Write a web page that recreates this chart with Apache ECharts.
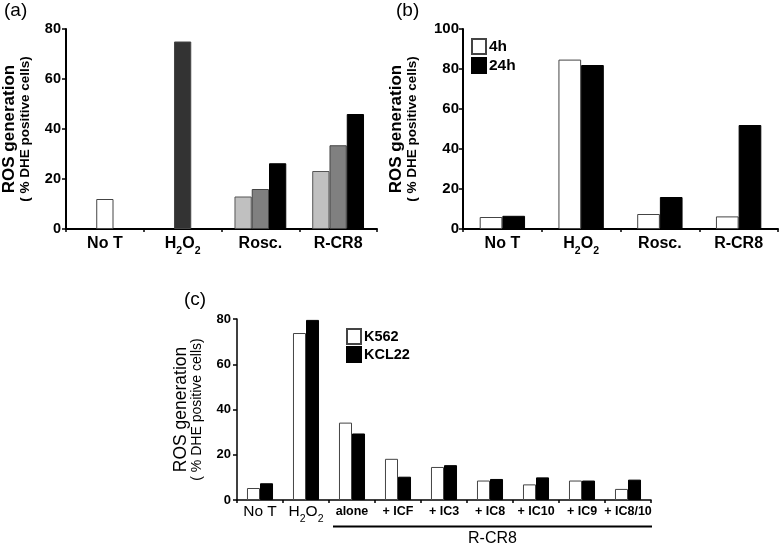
<!DOCTYPE html>
<html>
<head>
<meta charset="utf-8">
<script src="https://cdn.jsdelivr.net/npm/echarts@6/dist/echarts.min.js"></script>
<style>
html,body{margin:0;padding:0;background:#fff;}
#main{width:779px;height:544px;}
</style>
</head>
<body>
<div id="main"></div>
<script>
// ---------- data ----------
const catsA = ['No T', 'H2O2', 'Rosc.', 'R-CR8'];
const aLight = [null, null, 13, 23.2];
const aMid = [12, 75, 16, 33.5];
const aDark = [null, null, 26.3, 46];

const catsB = ['No T', 'H2O2', 'Rosc.', 'R-CR8'];
const b4h = [6, 84.7, 7.5, 6.3];
const b24h = [6.6, 82, 16, 52];

const catsC = ['No T', 'H2O2', 'alone', '+ ICF', '+ IC3', '+ IC8', '+ IC10', '+ IC9', '+ IC8/10'];
const cK562 = [5.3, 73.8, 34.2, 18.2, 14.6, 8.6, 6.9, 8.6, 4.9];
const cKCL22 = [7.4, 79.6, 29.4, 10.3, 15.4, 9.3, 10, 8.6, 9];

const yTicksA = [0, 20, 40, 60, 80];
const yTicksB = [0, 20, 40, 60, 80, 100];
const yTicksC = [0, 20, 40, 60, 80];
const groupLabelC = 'R-CR8';
const panelLabels = ['(a)', '(b)', '(c)'];

// ---------- styles ----------
const FF = '"Liberation Sans", Arial, Helvetica, sans-serif';
const aMidColors = ['#ffffff', '#333333', '#808080', '#808080'];

function xLabelFmt(v) {
  if (v === 'H2O2') return '{m|H}{s|2}{m|O}{s|2}';
  return '{m|' + v + '}';
}
function xLabelFmtC(v) {
  if (v === 'H2O2') return '{m|H}{s|2}{m|O}{s|2}';
  if (v === 'No T') return '{m|' + v + '}';
  return '{sm|' + v + '}';
}
function richLab(size, weight) {
  return {
    m: {fontSize: size, fontWeight: weight, fontFamily: FF, color: '#000', lineHeight: 17, verticalAlign: 'top'},
    s: {fontSize: 10.5, fontWeight: weight, fontFamily: FF, color: '#000', lineHeight: 10, padding: [10, 0, 0, 0], verticalAlign: 'top'},
    sm: {fontSize: 12.5, fontWeight: 'bold', fontFamily: FF, color: '#000', lineHeight: 16, verticalAlign: 'top', padding: [1, 0, 0, 0]}
  };
}
function yName(weight, s1, s2, lh1, lh2) {
  return {
    name: '{a|ROS generation}\n{b|( % DHE positive cells)}',
    nameLocation: 'middle',
    nameRotate: 90,
    nameTextStyle: {
      rich: {
        a: {fontSize: s1, fontWeight: weight, fontFamily: FF, color: '#000', lineHeight: lh1},
        b: {fontSize: s2, fontWeight: weight, fontFamily: FF, color: '#000', lineHeight: lh2}
      }
    }
  };
}
function ticksOf(arr) { return {min: arr[0], max: arr[arr.length - 1], interval: arr[1] - arr[0]}; }

const tA = ticksOf(yTicksA), tB = ticksOf(yTicksB), tC = ticksOf(yTicksC);

const chart = echarts.init(document.getElementById('main'), null, {renderer: 'canvas'});

const option = {
  backgroundColor: '#fff',
  animation: false,
  grid: [
    {left: 60, top: 29, width: 317, height: 200},
    {left: 463, top: 29, width: 315, height: 200},
    {left: 237, top: 319, width: 414, height: 181}
  ],
  legend: [
    {
      data: ['4h', '24h'], orient: 'vertical', left: 471, top: 38,
      itemWidth: 14, itemHeight: 15, itemGap: 2, padding: 0,
      textStyle: {fontSize: 15.5, fontWeight: 'bold', fontFamily: FF, color: '#000', padding: [0, 0, 0, -2]},
      icon: 'rect'
    },
    {
      data: ['K562', 'KCL22'], orient: 'vertical', left: 346, top: 328,
      itemWidth: 14, itemHeight: 15, itemGap: 1, padding: 0,
      textStyle: {fontSize: 14.5, fontWeight: 'bold', fontFamily: FF, color: '#000', padding: [0, 0, 0, -2]},
      icon: 'rect'
    }
  ],
  xAxis: [
    {
      gridIndex: 0, type: 'category', data: catsA,
      axisLine: {lineStyle: {color: '#000', width: 2}},
      axisTick: {show: true, length: 3, lineStyle: {color: '#000', width: 1.5}},
      axisLabel: {interval: 0, margin: 7, formatter: xLabelFmt, rich: richLab(16, 'bold')}
    },
    {
      gridIndex: 1, type: 'category', data: catsB,
      axisLine: {lineStyle: {color: '#000', width: 2}},
      axisTick: {show: true, length: 3, lineStyle: {color: '#000', width: 1.5}},
      axisLabel: {interval: 0, margin: 7, formatter: xLabelFmt, rich: richLab(16, 'bold')}
    },
    {
      gridIndex: 2, type: 'category', data: catsC,
      axisLine: {lineStyle: {color: '#000', width: 1.5}},
      axisTick: {show: true, length: 3, lineStyle: {color: '#000', width: 1.5}},
      axisLabel: {interval: 0, margin: 4, formatter: xLabelFmtC, rich: richLab(15.5, 'normal')}
    }
  ],
  yAxis: [
    Object.assign({
      gridIndex: 0, type: 'value', min: tA.min, max: tA.max, interval: tA.interval,
      nameGap: 34,
      axisLine: {show: true, lineStyle: {color: '#000', width: 2}},
      axisTick: {show: true, length: 4, lineStyle: {color: '#000', width: 1.5}},
      splitLine: {show: false},
      axisLabel: {margin: 5, fontSize: 14.5, fontWeight: 'bold', fontFamily: FF, color: '#000'}
    }, yName('bold', 17, 13.5, 17, 14)),
    Object.assign({
      gridIndex: 1, type: 'value', min: tB.min, max: tB.max, interval: tB.interval,
      nameGap: 44,
      axisLine: {show: true, lineStyle: {color: '#000', width: 2}},
      axisTick: {show: true, length: 4, lineStyle: {color: '#000', width: 1.5}},
      splitLine: {show: false},
      axisLabel: {margin: 4, fontSize: 15, fontWeight: 'bold', fontFamily: FF, color: '#000'}
    }, yName('bold', 17, 13.5, 17, 14)),
    Object.assign({
      gridIndex: 2, type: 'value', min: tC.min, max: tC.max, interval: tC.interval,
      nameGap: 33,
      axisLine: {show: true, lineStyle: {color: '#000', width: 1.5}},
      axisTick: {show: true, length: 4, lineStyle: {color: '#000', width: 1.5}},
      splitLine: {show: false},
      axisLabel: {margin: 6, fontSize: 13, fontWeight: 'bold', fontFamily: FF, color: '#000'}
    }, yName('normal', 17.5, 14, 17, 14))
  ],
  series: [
    {
      type: 'bar', xAxisIndex: 0, yAxisIndex: 0, data: aLight,
      barWidth: '22.2%', barGap: '0%',
      itemStyle: {color: '#c0c0c0', borderColor: '#555', borderWidth: 1}
    },
    {
      type: 'bar', xAxisIndex: 0, yAxisIndex: 0,
      data: aMid.map((v, i) => ({value: v, itemStyle: {color: aMidColors[i]}})),
      barWidth: '22.2%', barGap: '0%',
      itemStyle: {borderColor: '#444', borderWidth: 1}
    },
    {
      type: 'bar', xAxisIndex: 0, yAxisIndex: 0, data: aDark,
      barWidth: '22.2%', barGap: '0%',
      itemStyle: {color: '#000', borderColor: '#000', borderWidth: 1}
    },
    {
      name: '4h', type: 'bar', xAxisIndex: 1, yAxisIndex: 1, data: b4h,
      barWidth: '28.8%', barGap: '0%',
      itemStyle: {color: '#fff', borderColor: '#444', borderWidth: 1}
    },
    {
      name: '24h', type: 'bar', xAxisIndex: 1, yAxisIndex: 1, data: b24h,
      barWidth: '28.8%', barGap: '0%',
      itemStyle: {color: '#000', borderColor: '#000', borderWidth: 1}
    },
    {
      name: 'K562', type: 'bar', xAxisIndex: 2, yAxisIndex: 2, data: cK562,
      barWidth: '28.3%', barGap: '0%',
      itemStyle: {color: '#fff', borderColor: '#444', borderWidth: 1}
    },
    {
      name: 'KCL22', type: 'bar', xAxisIndex: 2, yAxisIndex: 2, data: cKCL22,
      barWidth: '28.3%', barGap: '0%',
      itemStyle: {color: '#000', borderColor: '#000', borderWidth: 1}
    }
  ]
};
chart.setOption(option);

// group bracket under R-CR8 categories of panel (c)
const p0 = chart.convertToPixel({xAxisIndex: 2}, catsC[2]);
const p1 = chart.convertToPixel({xAxisIndex: 2}, catsC[3]);
const band = p1 - p0;
const pEnd = chart.convertToPixel({xAxisIndex: 2}, catsC[catsC.length - 1]);
const lineX1 = p0 - band / 2 + 4;
const lineX2 = pEnd + band / 2 + 1;
const yBase = chart.convertToPixel({yAxisIndex: 2}, 0);

chart.setOption({
  graphic: [
    {type: 'text', left: 4, top: 1, style: {text: panelLabels[0], fontSize: 19, fontFamily: FF, fill: '#000'}},
    {type: 'text', left: 396, top: 1, style: {text: panelLabels[1], fontSize: 19, fontFamily: FF, fill: '#000'}},
    {type: 'text', left: 184, top: 290, style: {text: panelLabels[2], fontSize: 19, fontFamily: FF, fill: '#000'}},
    {type: 'line', shape: {x1: lineX1, y1: yBase + 26.5, x2: lineX2, y2: yBase + 26.5}, style: {stroke: '#000', lineWidth: 2}},
    {type: 'text', x: (lineX1 + lineX2) / 2, y: yBase + 31, style: {text: groupLabelC, fontSize: 16, fontFamily: FF, fill: '#000', align: 'center', verticalAlign: 'top'}}
  ]
});
</script>
</body>
</html>
